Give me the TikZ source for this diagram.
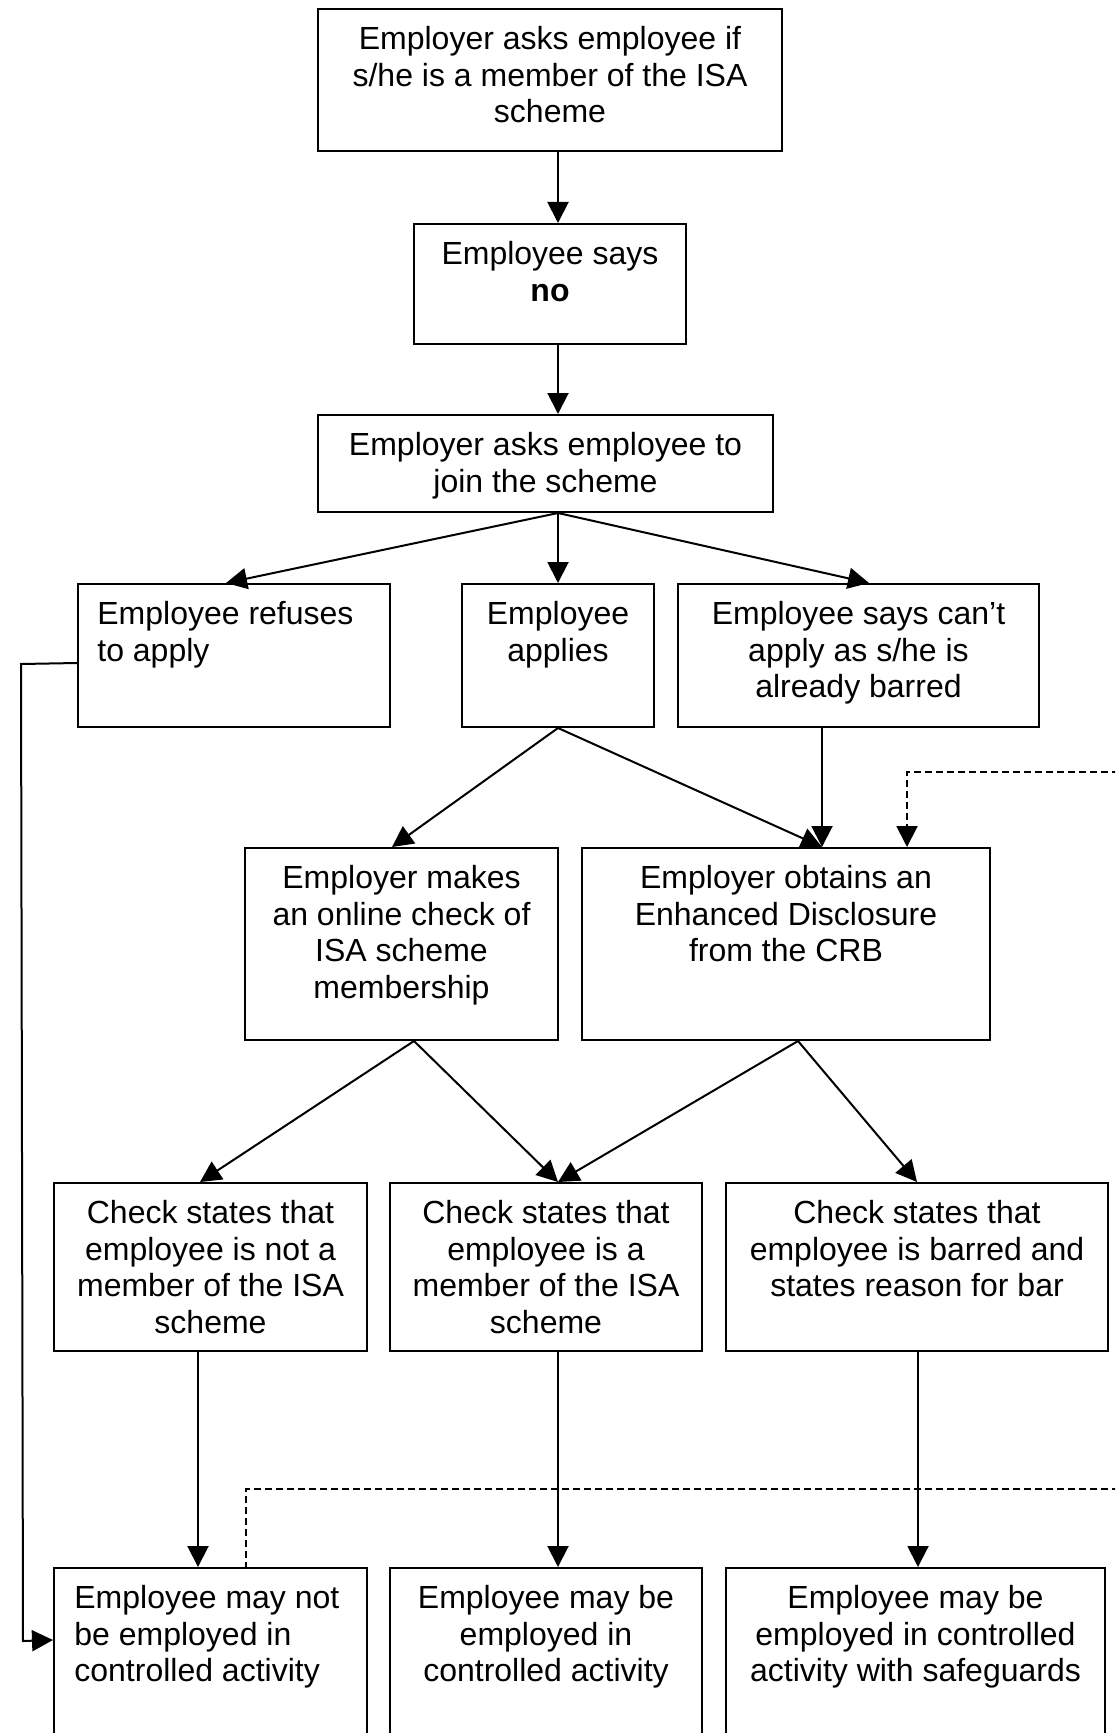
\documentclass[tikz,border=0pt]{standalone}
\usepackage{fontspec}
\setmainfont{Liberation Sans}
\usetikzlibrary{arrows.meta,fit,calc}
\begin{document}
\begin{tikzpicture}[x=0.5pt,y=-0.5pt,
  box/.style={draw,line width=1pt,inner sep=0pt},
  txt/.style={inner sep=0pt,align=center,font=\fontsize{16}{18.25}\selectfont,anchor=north},
  ltxt/.style={inner sep=0pt,align=left,font=\fontsize{16}{18.25}\selectfont,anchor=north west},
  arr/.style={line width=1pt,-{Triangle[length=10.5pt,width=10.5pt]}},
  con/.style={line width=1pt},
  dsh/.style={line width=1pt,dash pattern=on 3.5pt off 2pt}]
\useasboundingbox (0,0) rectangle (1115,1733);
\fill[white] (0,0) rectangle (1115,1733);
\clip (0,0) rectangle (1115,1733);

% column coordinates
\coordinate (cx) at (558,0);
\coordinate (c4) at (226,0);
\coordinate (c6) at (869,0);
\coordinate (c7) at (392,0);
\coordinate (c8) at (822,0);
\coordinate (d8) at (907,0);
\coordinate (s7) at (414,0);
\coordinate (s8) at (798,0);
\coordinate (c9) at (200,0);
\coordinate (c11) at (917,0);
\coordinate (c12) at (198,0);
\coordinate (c14) at (918,0);
\coordinate (cd) at (246,0);

% boxes
\node[box,fit={(318,9) (782,151)}] (b1) {};
\node[box,fit={(414,224) (686,344)}] (b2) {};
\node[box,fit={(318,415) (773,512)}] (b3) {};
\node[box,fit={(78,584) (390,727)}] (b4) {};
\node[box,fit={(462,584) (654,727)}] (b5) {};
\node[box,fit={(678,584) (1039,727)}] (b6) {};
\node[box,fit={(245,848) (558,1040)}] (b7) {};
\node[box,fit={(582,848) (990,1040)}] (b8) {};
\node[box,fit={(54,1183) (367,1351)}] (b9) {};
\node[box,fit={(390,1183) (702,1351)}] (b10) {};
\node[box,fit={(726,1183) (1108,1351)}] (b11) {};
\node[box,fit={(54,1568) (367,1790)}] (b12) {};
\node[box,fit={(390,1568) (702,1790)}] (b13) {};
\node[box,fit={(726,1568) (1105,1790)}] (b14) {};

% texts
\node[txt] (t1) at ($(b1.north)+(0,18)$) {Employer asks employee if\\s/he is a member of the ISA\\scheme};
\node[txt] (t2) at ($(b2.north)+(0,18)$) {Employee says\\\textbf{no}};
\node[txt] (t3) at ($(b3.north)+(0,18)$) {Employer asks employee to\\join the scheme};
\node[ltxt] (t4) at ($(b4.north west)+(20,18)$) {Employee refuses\\to apply};
\node[txt] (t5) at ($(b5.north)+(0,18)$) {Employee\\applies};
\node[txt] (t6) at ($(b6.north)+(0,18)$) {Employee says can’t\\apply as s/he is\\already barred};
\node[txt] (t7) at ($(b7.north)+(0,18)$) {Employer makes\\an online check of\\ISA scheme\\membership};
\node[txt] (t8) at ($(b8.north)+(0,18)$) {Employer obtains an\\Enhanced Disclosure\\from the CRB};
\node[txt] (t9) at ($(b9.north)+(0,18)$) {Check states that\\employee is not a\\member of the ISA\\scheme};
\node[txt] (t10) at ($(b10.north)+(0,18)$) {Check states that\\employee is a\\member of the ISA\\scheme};
\node[txt] (t11) at ($(b11.north)+(0,18)$) {Check states that\\employee is barred and\\states reason for bar};
\node[ltxt] (t12) at ($(b12.north west)+(21,18)$) {Employee may not\\be employed in\\controlled activity};
\node[txt] (t13) at ($(b13.north)+(0,18)$) {Employee may be\\employed in\\controlled activity};
\node[txt] (t14) at ($(b14.north)+(0,18)$) {Employee may be\\employed in controlled\\activity with safeguards};

% connectors
\draw[arr] (b1.south -| cx) -- (b2.north -| cx);
\draw[arr] (b2.south -| cx) -- (b3.north -| cx);
\draw[arr] (b3.south -| cx) -- (b4.north -| c4);
\draw[arr] (b3.south -| cx) -- (b5.north -| cx);
\draw[arr] (b3.south -| cx) -- (b6.north -| c6);
\draw[arr] (b5.south -| cx) -- (b7.north -| c7);
\draw[arr] (b5.south -| cx) -- (b8.north -| c8);
\draw[arr] (b6.south -| c8) -- (b8.north -| c8);
\coordinate (e1) at (1130,772);
\draw[dsh,-{Triangle[length=10.5pt,width=10.5pt]}] (e1) -| (b8.north -| d8);
\draw[arr] (b7.south -| s7) -- (b9.north -| c9);
\draw[arr] (b7.south -| s7) -- (b10.north -| cx);
\draw[arr] (b8.south -| s8) -- (b10.north -| cx);
\draw[arr] (b8.south -| s8) -- (b11.north -| c11);
\draw[arr] (b9.south -| c12) -- (b12.north -| c12);
\draw[arr] (b10.south -| cx) -- (b13.north -| cx);
\draw[arr] (b11.south -| c14) -- (b14.north -| c14);
\coordinate (l1) at (21,664);
\coordinate (l2) at (23,1641);
\draw[arr] ($(b4.north west)+(0,80)$) -- (l1) -- (l2) -- ($(b12.north west)+(0,73)$);
\coordinate (e2) at (1130,1489);
\draw[dsh] (e2) -| (b12.north -| cd);
\end{tikzpicture}
\end{document}
